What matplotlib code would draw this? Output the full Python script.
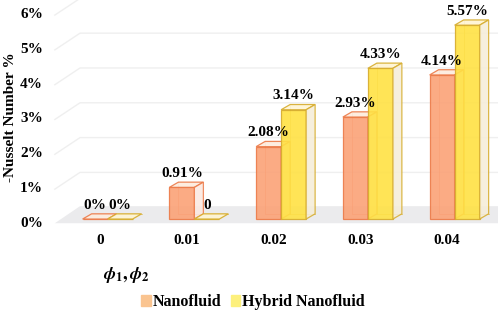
import numpy as np
import matplotlib.pyplot as plt
from matplotlib.patches import Polygon, Patch

plt.rcParams['font.family'] = ['Liberation Serif', 'DejaVu Serif']
plt.rcParams['font.weight'] = 'bold'
plt.rcParams['mathtext.fontset'] = 'stix'

# data
phi = ['0', '0.01', '0.02', '0.03', '0.04']
nano = [0, 0.91, 2.08, 2.93, 4.14]
hybrid = [0, 0, 3.14, 4.33, 5.57]
nano_labels = ['0%', '0.91%', '2.08%', '2.93%', '4.14%']
hybrid_labels = ['0%', '0', '3.14%', '4.33%', '5.57%']
yticks = [0, 1, 2, 3, 4, 5, 6]

# pseudo 3d depth (category units, percent units)
DX, DY = 0.104, 0.15
W = 0.288

fig = plt.figure(figsize=(4.98, 3.12), dpi=100)
ax = fig.add_axes([50 / 498, 86 / 312, 448 / 498, 226 / 312])
ax.set_xlim(-0.576, 4.588)
ax.set_ylim(-0.2, 6.293)

# floor and walls
xl_front, xl_back = -0.52, -0.23
floor = Polygon([(xl_front, -0.12), (xl_back, 0.37), (5, 0.37), (5, -0.12)],
                closed=True, fc='#EBEBED', ec='none', zorder=0)
ax.add_patch(floor)
for k in yticks[1:]:
    ax.plot([xl_front, xl_back, 5], [k - 0.14, k + 0.34, k + 0.34],
            color='#EFEFEF', lw=1, zorder=0.5)

x = np.arange(len(phi))


def draw_series(vals, labels, off, face, edge, top, side, z):
    bars = ax.bar(x + off, vals, W, align='edge', color=face, edgecolor=edge,
                  linewidth=0.9, alpha=0.9, zorder=z + 0.2)
    for b, lab in zip(bars, labels):
        x0, w, h = b.get_x(), b.get_width(), b.get_height()
        x1 = x0 + w
        # hidden back edges seen through
        ax.plot([x0 + DX, x0 + DX, x1 + DX], [h + DY, DY, DY], color=edge,
                lw=0.6, alpha=0.6, zorder=z)
        ax.add_patch(Polygon([(x0, h), (x1, h), (x1 + DX, h + DY), (x0 + DX, h + DY)],
                             closed=True, fc=top, ec=edge, lw=0.9, alpha=0.9, zorder=z + 0.3))
        if h > 0:
            ax.add_patch(Polygon([(x1, 0), (x1 + DX, DY), (x1 + DX, h + DY), (x1, h)],
                                 closed=True, fc=side, ec=edge, lw=0.9, alpha=0.85, zorder=z + 0.3))
        ax.text(x0 + w / 2, h + DY + 0.06, lab, ha='center', va='bottom',
                fontsize=11, fontweight='bold', zorder=10)


draw_series(nano, nano_labels, -0.2, '#FBA277', '#EC7A48', '#FDEBDD', '#FBE8E0', 3)
draw_series(hybrid, hybrid_labels, -0.2 + W, '#FFE144', '#D6AC2C', '#FFF4D2', '#F5EDD8', 4)

ax.set_xticks(x)
ax.set_xticklabels(phi, fontsize=11, fontweight='bold')
ax.set_yticks(np.array(yticks) - 0.08)
ax.set_yticklabels([f'{v}%' for v in yticks], fontsize=11, fontweight='bold')
ax.tick_params(length=0)
ax.tick_params(axis='x', pad=6)
ax.tick_params(axis='y', pad=5)
for s in ax.spines.values():
    s.set_visible(False)

fig.text(11 / 498, 1 - 117 / 312, '-Nusselt Number %', rotation=90,
         ha='center', va='center', fontsize=11, fontweight='bold')
fig.text(126 / 498, 1 - 275 / 312, r'$\phi_1, \phi_2$', ha='center', va='center',
         fontsize=13)

handles = [Patch(color='#FAC490', label='Nanofluid'),
           Patch(color='#FDF07C', label='Hybrid Nanofluid')]
fig.legend(handles=handles, loc='center', bbox_to_anchor=(253 / 498, 1 - 302 / 312),
           ncol=2, frameon=False, handlelength=0.6, handleheight=0.7,
           handletextpad=0.1, columnspacing=0.6,
           prop={'weight': 'bold', 'size': 11.5})

fig.savefig('out.png', dpi=100)
